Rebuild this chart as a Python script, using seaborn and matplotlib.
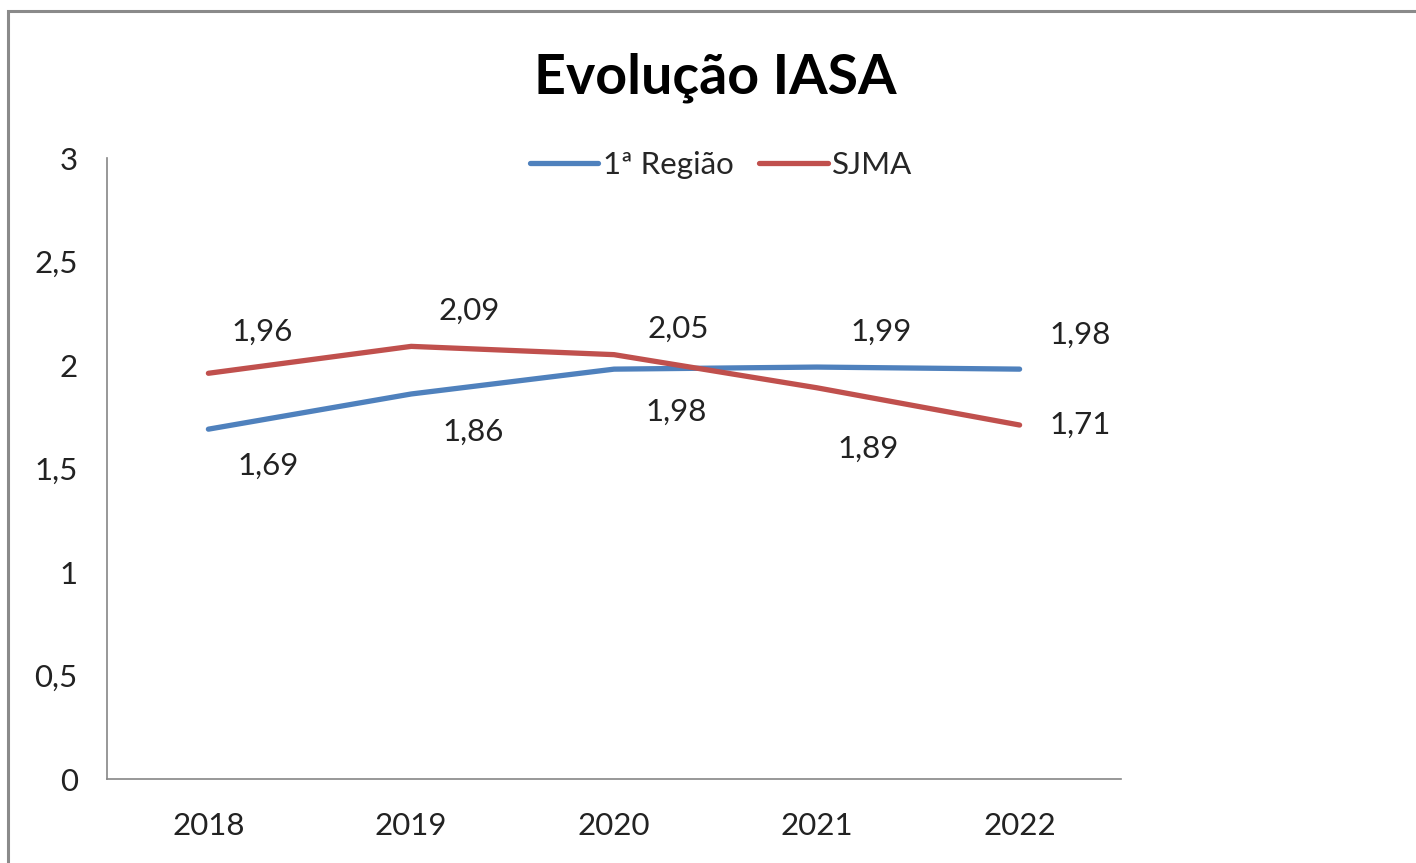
import matplotlib.pyplot as plt
import seaborn as sns
import pandas as pd
from matplotlib.patches import Rectangle

anos = ['2018', '2019', '2020', '2021', '2022']
regiao = [1.69, 1.86, 1.98, 1.99, 1.98]
sjma = [1.96, 2.09, 2.05, 1.89, 1.71]
series = ['1ª Região', 'SJMA']
yticks = [0, 0.5, 1, 1.5, 2, 2.5, 3]

# label offsets in pixels (dx, dy), just to mimic the excel placement
off_regiao = [(60, -37), (62, -38), (62, -43), (64, 35), (61, 34)]
off_sjma = [(54, 41), (58, 36), (64, 26), (51, -61), (61, 0)]

df = pd.DataFrame({
    'ano': anos * 2,
    'valor': regiao + sjma,
    'serie': [series[0]] * 5 + [series[1]] * 5,
})

sns.set_style('white')
plt.rcParams['font.family'] = ['Lato', 'DejaVu Sans']

fig = plt.figure(figsize=(14.16, 8.63), dpi=100)
ax = fig.add_axes([107 / 1416, 1 - 779 / 863, 1014 / 1416, 621 / 863])

cores = {'1ª Região': '#4F81BD', 'SJMA': '#C0504D'}
sns.lineplot(data=df, x='ano', y='valor', hue='serie', palette=cores,
             linewidth=3.8, ax=ax, sort=False)

fs = 22.5
for vals, offs in [(regiao, off_regiao), (sjma, off_sjma)]:
    for i, v in enumerate(vals):
        ax.annotate(f'{v:.2f}'.replace('.', ','), (i, v),
                    xytext=offs[i], textcoords='offset pixels',
                    ha='center', va='center', fontsize=fs, color='#222222')

ax.set_xlim(-0.5, 4.5)
ax.set_ylim(0, 3)
ax.set_yticks(yticks)
ax.set_yticklabels([f'{t:g}'.replace('.', ',') for t in yticks])
ax.tick_params(axis='both', length=0, labelsize=fs, colors='#222222')
ax.tick_params(axis='y', pad=21)
ax.tick_params(axis='x', pad=24)
ax.set_xlabel('')
ax.set_ylabel('')
for s in ['top', 'right']:
    ax.spines[s].set_visible(False)
for s in ['left', 'bottom']:
    ax.spines[s].set_color('#868686')
    ax.spines[s].set_linewidth(1.2)

ax.legend(loc='center', bbox_to_anchor=(721 / 1416, 1 - 165 / 863),
          bbox_transform=fig.transFigure, ncol=2, frameon=False,
          fontsize=fs, handlelength=2.2, handletextpad=0.15,
          columnspacing=0.8, borderpad=0)

fig.text(715 / 1416, 1 - 78 / 863, 'Evolução IASA', ha='center', va='center',
         fontsize=40, fontweight='bold', color='black')

fig.patches.append(Rectangle((8 / 1416, -0.05), 1.1, 1 - 11 / 863 + 0.05,
                             transform=fig.transFigure, fill=False,
                             edgecolor='#8a8a8a', linewidth=2.2))

fig.savefig('out.png', dpi=100)
